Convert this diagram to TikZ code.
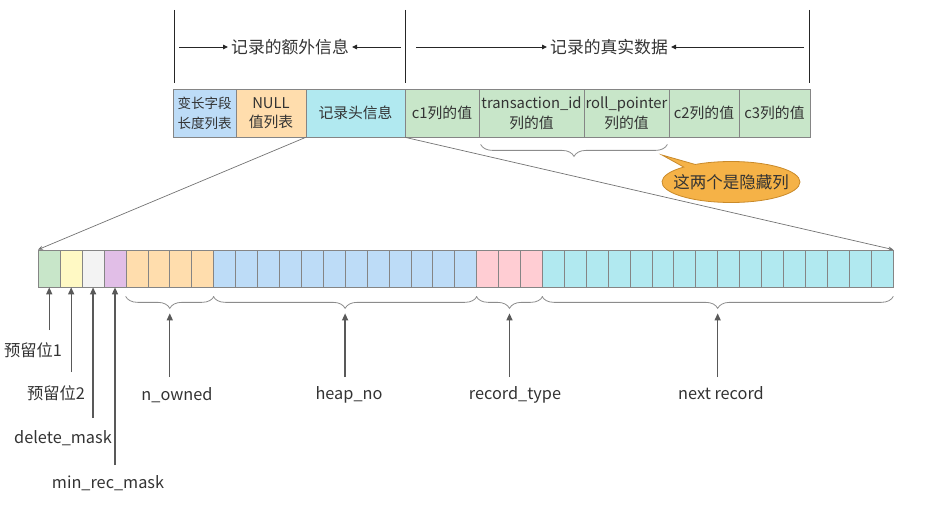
\documentclass[tikz,border=0pt]{standalone}
\usepackage{fontspec}
\setmainfont{Noto Sans CJK SC}
\usetikzlibrary{arrows.meta,calc,decorations.pathreplacing,shapes.callouts}
\definecolor{txtgray}{HTML}{333333}
\definecolor{linegray}{HTML}{858585}
\definecolor{cblue}{HTML}{BDDCF7}
\definecolor{corange}{HTML}{FFDDAD}
\definecolor{ccyan}{HTML}{B1E9F0}
\definecolor{cgreen}{HTML}{C8E6C9}
\definecolor{cyellow}{HTML}{FFF9C4}
\definecolor{cgray}{HTML}{F3F3F3}
\definecolor{cpurple}{HTML}{E1BEE7}
\definecolor{cpink}{HTML}{FFCDD3}
\definecolor{bubble}{HTML}{F5B247}
\definecolor{bubbleline}{HTML}{C98A2A}
\tikzset{
  cell/.style={draw=linegray,line width=0.8pt,minimum height=48pt,inner sep=0pt,
    align=center,font=\fontsize{14.8}{19.5}\selectfont,text=txtgray},
  bit/.style={draw=linegray,line width=0.7pt,minimum width=21.9pt,minimum height=37pt,inner sep=0pt},
  lbl/.style={font=\fontsize{16.3}{18}\selectfont,text=txtgray,inner sep=1pt},
  uparrow/.style={draw=black!65,line width=1.3pt,-{Triangle[length=7pt,width=6pt]}},
  hdarrow/.style={draw=black!85,line width=0.9pt,-{Triangle[length=5pt,width=4.5pt]}},
  zoomline/.style={draw=black!55,line width=0.7pt,-{Stealth[length=5pt,width=4pt]}},
  grpbrace/.style={draw=black!45,line width=0.8pt,decorate,decoration={brace,mirror,amplitude=12pt}},
}
\begin{document}
\begin{tikzpicture}[x=1pt,y=-1pt]
\useasboundingbox (0,0) rectangle (927,516);
% the record row
\node[cell,fill=cblue,minimum width=63pt,font=\fontsize{13.5}{20}\selectfont] (vlen) at (204.5,113) {变长字段\\长度列表};
\node[cell,fill=corange,minimum width=70pt] (nullv) at (271,113) {NULL\\值列表};
\node[cell,fill=ccyan,minimum width=99pt] (hdr) at (355.5,113) {记录头信息};
\node[cell,fill=cgreen,minimum width=74pt] (c1) at (442,113) {c1列的值};
\node[cell,fill=cgreen,minimum width=105pt] (trx) at (531.5,113) {transaction\_id\\列的值};
\node[cell,fill=cgreen,minimum width=85pt] (rollp) at (626.5,113) {roll\_pointer\\列的值};
\node[cell,fill=cgreen,minimum width=70pt] (c2) at (704,113) {c2列的值};
\node[cell,fill=cgreen,minimum width=71pt] (c3) at (774.5,113) {c3列的值};
% spans above the row
\coordinate (m1a) at (174,10); \coordinate (m1b) at (174,83);
\coordinate (m2a) at (405,10); \coordinate (m2b) at (405,83);
\coordinate (m3a) at (809,10); \coordinate (m3b) at (809,83);
\draw[line width=1pt,black!85] (m1a) -- (m1b);
\draw[line width=1pt,black!85] (m2a) -- (m2b);
\draw[line width=1pt,black!85] (m3a) -- (m3b);
\node[lbl,inner sep=3pt,font=\fontsize{16.8}{18}\selectfont] (extra) at (290,47) {记录的额外信息};
\node[lbl,inner sep=3pt,font=\fontsize{16.8}{18}\selectfont] (real) at (609,47) {记录的真实数据};
\coordinate (ex1) at (179,47); \coordinate (ex2) at (401,47);
\coordinate (re1) at (416,47); \coordinate (re2) at (804,47);
\draw[hdarrow] (ex1) -- (extra.west);
\draw[hdarrow] (ex2) -- (extra.east);
\draw[hdarrow] (re1) -- (real.west);
\draw[hdarrow] (re2) -- (real.east);
% hidden columns
\draw[grpbrace] ([shift={(2,7)}]trx.south west) -- ([shift={(-2,7)}]rollp.south east);
\coordinate (ctip) at (662,155);
\node[ellipse callout,fill=bubble,draw=bubbleline,line width=0.8pt,callout absolute pointer=(ctip),
  callout pointer arc=12,minimum width=138pt,minimum height=41pt,inner sep=0pt,
  font=\fontsize{16.5}{18}\selectfont,text=txtgray]
  (hidden) at (731,182) {\makebox[0pt]{这两个是隐藏列}};
% record header bits
\foreach \from/\to/\c in {1/1/cgreen,2/2/cyellow,3/3/cgray,4/4/cpurple,5/8/corange,
    9/20/cblue,21/23/cpink,24/39/ccyan}
  \foreach \i in {\from,...,\to}
    \node[bit,fill=\c] (b\i) at ({38.3+(\i-0.5)*21.915},268.5) {};
\draw[zoomline] (hdr.south west) -- (b1.north west);
\draw[zoomline] (hdr.south east) -- (b39.north east);
% single bits
\node[lbl] (res1) at (33,350) {预留位1};
\node[lbl] (res2) at (56,393) {预留位2};
\node[lbl] (delm) at (63,438) {delete\_mask};
\node[lbl] (minm) at (108,483) {min\_rec\_mask};
\coordinate (t1) at (b1.south |- 0,330);
\coordinate (t2) at (b2.south |- 0,372);
\coordinate (t3) at (b3.south |- 0,418);
\coordinate (t4) at (b4.south |- 0,465);
\draw[uparrow] (t1) -- (b1.south);
\draw[uparrow] (t2) -- (b2.south);
\draw[uparrow] (t3) -- (b3.south);
\draw[uparrow] (t4) -- (b4.south);
% grouped bits
\draw[grpbrace] ([yshift=-9pt]b5.south west) -- ([yshift=-9pt]b8.south east);
\draw[grpbrace] ([yshift=-9pt]b9.south west) -- ([yshift=-9pt]b20.south east);
\draw[grpbrace] ([yshift=-9pt]b21.south west) -- ([yshift=-9pt]b23.south east);
\draw[grpbrace] ([yshift=-9pt]b24.south west) -- ([yshift=-9pt]b39.south east);
\coordinate (owntip) at ($(b5.south west)!0.5!(b8.south east)+(0,26)$);
\coordinate (heaptip) at ($(b9.south west)!0.5!(b20.south east)+(0,26)$);
\coordinate (typetip) at ($(b21.south west)!0.5!(b23.south east)+(0,26)$);
\coordinate (nexttip) at ($(b24.south west)!0.5!(b39.south east)+(0,26)$);
\node[lbl] (nowned) at (177,395) {n\_owned};
\node[lbl] (heapno) at (349,395) {heap\_no};
\node[lbl] (rtype) at (515,395) {record\_type};
\node[lbl] (nextrec) at (721,393) {next record};
\coordinate (owntail) at (owntip |- 0,377);
\coordinate (heaptail) at (heaptip |- 0,377);
\coordinate (typetail) at (typetip |- 0,377);
\coordinate (nexttail) at (nexttip |- 0,377);
\draw[uparrow] (owntail) -- (owntip);
\draw[uparrow] (heaptail) -- (heaptip);
\draw[uparrow] (typetail) -- (typetip);
\draw[uparrow] (nexttail) -- (nexttip);
\end{tikzpicture}
\end{document}
